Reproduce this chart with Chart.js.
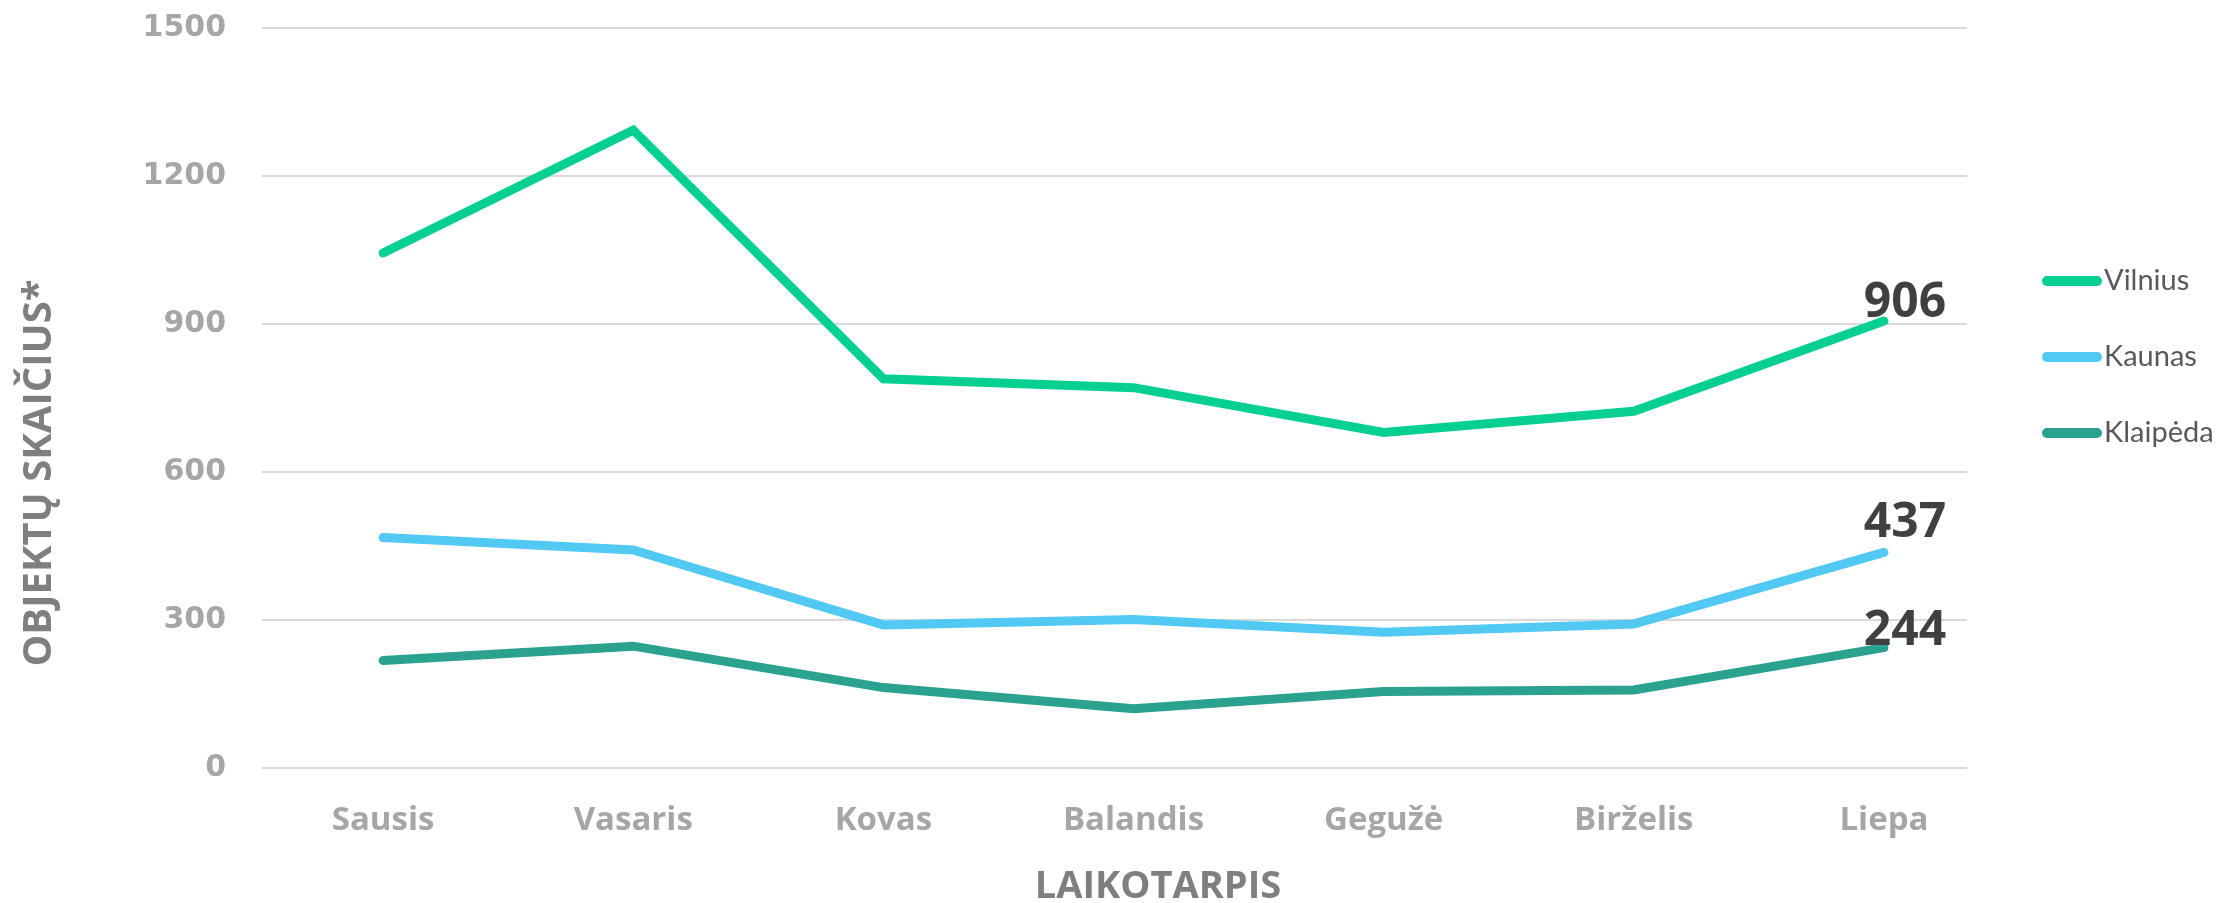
<!DOCTYPE html>
<html>
<head>
    <meta charset="utf-8">
    <title>Objektų skaičius</title>
    <script src="https://cdn.jsdelivr.net/npm/chart.js"></script>
    <style>
        html, body { margin: 0; padding: 0; background: #fff; }
    </style>
</head>
<body>
    <canvas id="myChart" width="2217" height="903"></canvas>
    <script>
        // data
        var months = ['Sausis', 'Vasaris', 'Kovas', 'Balandis', 'Gegužė', 'Birželis', 'Liepa'];
        var vilnius = [1044, 1293, 789, 771, 680, 723, 906];
        var kaunas = [467, 442, 290, 301, 275, 292, 437];
        var klaipeda = [218, 247, 163, 120, 155, 158, 244];
        var yTicks = [0, 300, 600, 900, 1200, 1500];

        function points(values) {
            return values.map(function(v, i) { return { x: i, y: v }; });
        }

        // end labels, legend and axis titles
        var extras = {
            id: 'extras',
            afterDraw: function(chart) {
                var ctx = chart.ctx;

                chart.data.datasets.forEach(function(ds, i) {
                    var meta = chart.getDatasetMeta(i);
                    var pt = meta.data[meta.data.length - 1];
                    ctx.save();
                    ctx.font = 'bold 48px "Open Sans"';
                    ctx.fillStyle = '#404040';
                    ctx.textAlign = 'center';
                    ctx.textBaseline = 'alphabetic';
                    ctx.fillText(ds.data[ds.data.length - 1].y, pt.x + 21, pt.y + ds.labelDy);
                    ctx.restore();

                    // legend entry
                    var ly = 281 + i * 76;
                    ctx.save();
                    ctx.strokeStyle = ds.borderColor;
                    ctx.lineWidth = 10;
                    ctx.lineCap = 'round';
                    ctx.beginPath();
                    ctx.moveTo(2047, ly);
                    ctx.lineTo(2097, ly);
                    ctx.stroke();
                    ctx.font = '29px Lato';
                    ctx.fillStyle = '#595959';
                    ctx.textBaseline = 'middle';
                    ctx.fillText(ds.label, 2104, ly);
                    ctx.restore();
                });

                ctx.save();
                ctx.font = 'bold 38px "Open Sans"';
                ctx.fillStyle = '#7f7f7f';
                ctx.textAlign = 'center';
                ctx.textBaseline = 'middle';
                ctx.fillText('LAIKOTARPIS', 1158, 887);
                ctx.font = 'bold 40px "Open Sans"';
                ctx.translate(40, 473);
                ctx.rotate(-Math.PI / 2);
                ctx.fillText('OBJEKTŲ SKAIČIUS*', 0, 0);
                ctx.restore();
            }
        };

        var ctx = document.getElementById('myChart').getContext('2d');
        var myChart = new Chart(ctx, {
            type: 'line',
            data: {
                datasets: [{
                    label: 'Vilnius',
                    data: points(vilnius),
                    borderColor: '#05d092',
                    labelDy: -4
                }, {
                    label: 'Kaunas',
                    data: points(kaunas),
                    borderColor: '#52c9f2',
                    labelDy: -15
                }, {
                    label: 'Klaipėda',
                    data: points(klaipeda),
                    borderColor: '#2ba28f',
                    labelDy: -3
                }]
            },
            options: {
                responsive: false,
                animation: false,
                layout: { padding: { top: 28, right: 250, bottom: 0, left: 0 } },
                elements: {
                    line: { borderWidth: 9, borderCapStyle: 'round', borderJoinStyle: 'miter', tension: 0, fill: false },
                    point: { radius: 0, hoverRadius: 0 }
                },
                plugins: {
                    legend: { display: false },
                    tooltip: { enabled: false }
                },
                scales: {
                    x: {
                        type: 'linear',
                        min: -0.484,
                        max: 6.332,
                        grid: { display: false },
                        border: { display: false },
                        afterBuildTicks: function(scale) {
                            scale.ticks = months.map(function(m, i) { return { value: i }; });
                        },
                        afterFit: function(scale) {
                            scale.height = 135;
                            scale.paddingTop = 0;
                        },
                        ticks: {
                            autoSkip: false,
                            maxRotation: 0,
                            padding: 25,
                            color: '#a6a6a6',
                            font: { family: 'Open Sans', size: 33, weight: 'bold' },
                            callback: function(v) { return months[v]; }
                        }
                    },
                    y: {
                        min: 0,
                        max: 1500,
                        border: { display: false },
                        grid: { color: '#d9d9d9', lineWidth: 2, drawTicks: false },
                        afterBuildTicks: function(scale) {
                            scale.ticks = yTicks.map(function(v) { return { value: v }; });
                        },
                        afterFit: function(scale) {
                            scale.width = 262;
                            scale.paddingTop = 0;
                        },
                        ticks: {
                            padding: 36,
                            color: '#a6a6a6',
                            font: { family: 'DejaVu Sans', size: 30, weight: 'bold' },
                            callback: function(v) { return String(v); }
                        }
                    }
                }
            },
            plugins: [extras]
        });
    </script>
</body>
</html>
